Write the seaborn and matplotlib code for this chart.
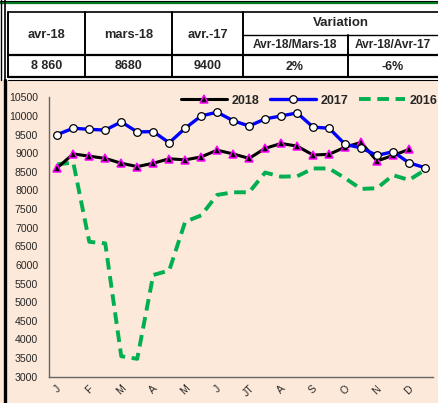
import matplotlib
matplotlib.use('Agg')
import matplotlib.pyplot as plt
from matplotlib.patches import Rectangle
import seaborn as sns
import numpy as np

# semi-monthly points, one month label every two points
months = ['J', 'F', 'M', 'A', 'M', 'J', 'JT', 'A', 'S', 'O', 'N', 'D']
y2018 = [8610, 8980, 8920, 8860, 8730, 8640, 8730, 8850, 8820, 8900, 9080, 8980,
         8860, 9130, 9260, 9190, 8950, 8970, 9160, 9290, 8790, 8940, 9100]
y2017 = [9500, 9670, 9640, 9620, 9840, 9570, 9580, 9280, 9670, 10000, 10100, 9870,
         9730, 9920, 10000, 10080, 9700, 9670, 9240, 9140, 8940, 9040, 8740, 8610]
y2016 = [8700, 8750, 6620, 6580, 3550, 3480, 5730, 5850, 7160, 7330, 7880, 7950,
         7950, 8480, 8370, 8380, 8590, 8590, 8330, 8040, 8060, 8410, 8280, 8550]

col_heads = ['avr-18', 'mars-18', 'avr.-17']
col_vals = ['8 860', '8680', '9400']
var_title = 'Variation'
var_heads = ['Avr-18/Mars-18', 'Avr-18/Avr-17']
var_vals = ['2%', '-6%']

sns.set_style('white')
plt.rcParams['font.family'] = ['Liberation Sans', 'DejaVu Sans']

W, H = 439, 403
fig = plt.figure(figsize=(W / 100, H / 100), dpi=100)
fig.patch.set_facecolor('white')

# frame + table drawn in pixel coordinates
ax0 = fig.add_axes([0, 0, 1, 1], zorder=0)
ax0.set_xlim(0, W)
ax0.set_ylim(H, 0)
ax0.axis('off')
ax0.add_patch(Rectangle((0, 80), W, H - 80, color='#FDE9D9', lw=0))
ax0.plot([0, W], [0.5, 0.5], color='black', lw=0.8)
ax0.plot([0, W], [2.8, 2.8], color='#007A1F', lw=1.6)
ax0.plot([1, 1], [0, 80], color='black', lw=1)
ax0.plot([5.5, 5.5], [0, 80], color='black', lw=1.2)
ax0.plot([5, 5], [80, H], color='black', lw=2.4)

x_edges = [8.3, 85, 172.3, 243.3, 348.3, W]
ax0.plot([8.3, W], [12.3, 12.3], color='black', lw=1.2)
ax0.plot([243.3, W], [35, 35], color='black', lw=1)
ax0.plot([8.3, W], [55, 55], color='black', lw=1.6)
ax0.plot([8.3, W], [76.7, 76.7], color='black', lw=1.6)
ax0.plot([8.3, W], [79.5, 79.5], color='black', lw=0.8)
for xe in x_edges[:4]:
    ax0.plot([xe, xe], [12.3, 77], color='black', lw=1.4)
ax0.plot([348.3, 348.3], [35, 77], color='black', lw=1.4)

for i, (h, v) in enumerate(zip(col_heads, col_vals)):
    xc = (x_edges[i] + x_edges[i + 1]) / 2
    ax0.text(xc, 35, h, ha='center', va='center', fontsize=9.3, fontweight='bold')
    ax0.text(xc, 66, v, ha='center', va='center', fontsize=9, fontweight='bold')
ax0.text((243.3 + W) / 2, 23, var_title, ha='center', va='center', fontsize=9.5, fontweight='bold')
for i, (h, v) in enumerate(zip(var_heads, var_vals)):
    xc = (x_edges[i + 3] + x_edges[i + 4]) / 2 - 1
    ax0.text(xc, 45.5, h, ha='center', va='center', fontsize=8.6, fontweight='bold')
    ax0.text(xc, 67, v, ha='center', va='center', fontsize=9, fontweight='bold')

# line chart
ax = fig.add_axes([49.3 / W, 1 - 376.7 / H, (433 - 49.3) / W, (376.7 - 97.3) / H], zorder=1)
ax.set_facecolor('none')

sns.lineplot(x=np.arange(len(y2016)), y=y2016, ax=ax, color='#00B050', lw=2.8,
             linestyle=(0, (3, 1.7)), label='2016')
sns.lineplot(x=np.arange(len(y2018)), y=y2018, ax=ax, color='black', lw=2.2,
             marker='^', ms=6, mfc='black', mec='#FF00FF', mew=1.1, label='2018')
sns.lineplot(x=np.arange(len(y2017)), y=y2017, ax=ax, color='#0000FF', lw=2.4,
             marker='o', ms=5.5, mfc='white', mec='black', mew=0.9, label='2017')

ax.set_xlim(-0.5, 23.5)
ax.set_ylim(3000, 10500)
ax.set_yticks(np.arange(3000, 10501, 500))
ax.set_xticks(np.arange(-0.5, 24, 1))
ax.set_xticklabels([])
ax.set_xticks(np.arange(0, 24, 2), minor=True)
ax.set_xticklabels(months, minor=True, rotation=45, ha='center', fontsize=7.5)
ax.tick_params(axis='x', which='minor', length=0, pad=5)
ax.tick_params(axis='x', which='major', direction='out', length=3, width=0.8, color='#555555')
ax.tick_params(axis='y', direction='out', length=3.5, width=0.8, color='#555555',
               labelsize=7.6, pad=4.5)
ax.set_xlabel('')
ax.set_ylabel('')
ax.grid(False)
for s in ['top', 'right']:
    ax.spines[s].set_visible(False)
for s in ['left', 'bottom']:
    ax.spines[s].set_color('#666666')
    ax.spines[s].set_linewidth(1)

handles, labels = ax.get_legend_handles_labels()
order = [labels.index(l) for l in ['2018', '2017', '2016']]
leg = ax.legend([handles[i] for i in order], [labels[i] for i in order], ncol=3,
                loc='upper right', bbox_to_anchor=(1.04, 1.05), frameon=False,
                handlelength=3.7, handletextpad=0.3, columnspacing=0.9,
                prop={'weight': 'bold', 'size': 9})

fig.savefig('out.png', dpi=100, facecolor=fig.get_facecolor())
